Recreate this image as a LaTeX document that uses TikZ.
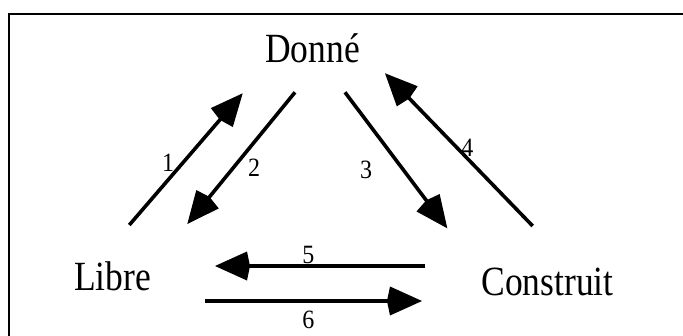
\documentclass[tikz,border=0pt]{standalone}
\usepackage{fontspec}
\setmainfont{Liberation Serif}
\usetikzlibrary{arrows.meta}
\begin{document}
\begin{tikzpicture}[x=1pt,y=-1pt,
  word/.style={inner sep=0pt,anchor=base,transform shape,yscale=1.17,font=\fontsize{35.5}{40}\selectfont},
  num/.style={inner sep=0pt,anchor=center,transform shape,yscale=1.1,font=\fontsize{24}{28}\selectfont},
  link/.style={line width=3.6pt,-{Kite[length=35pt,width=29pt,inset=3pt]}}]
\useasboundingbox (0,0) rectangle (683,335);
\draw[line width=2pt] (8.5,336) -- (8.5,13.5) -- (684,13.5);
\node[word] (donne) at (312.5,62) {Donné};
\node[word] (libre) at (112.5,290) {Libre};
\node[word] (constr) at (547.5,295) {Construit};
\coordinate (a1s) at (129.3,225);
\coordinate (a1e) at (242.7,93.3);
\coordinate (a2s) at (295,92.3);
\coordinate (a2e) at (187.3,224);
\coordinate (a3s) at (345,92.3);
\coordinate (a3e) at (447.3,228.3);
\coordinate (a4s) at (532.7,226);
\coordinate (a4e) at (385,73.3);
\coordinate (a5s) at (425,266);
\coordinate (a5e) at (215,266);
\coordinate (a6s) at (205,301);
\coordinate (a6e) at (422,301);
\draw[link] (a1s) -- (a1e);
\draw[link] (a2s) -- (a2e);
\draw[link] (a3s) -- (a3e);
\draw[link] (a4s) -- (a4e);
\draw[link] (a5s) -- (a5e);
\draw[link] (a6s) -- (a6e);
\node[num] (n1) at (168,163) {1};
\node[num] (n2) at (254,168) {2};
\node[num] (n3) at (366,170) {3};
\node[num] (n4) at (467.3,148.3) {4};
\node[num] (n5) at (308.3,255) {5};
\node[num] (n6) at (308.3,320) {6};
\end{tikzpicture}
\end{document}
